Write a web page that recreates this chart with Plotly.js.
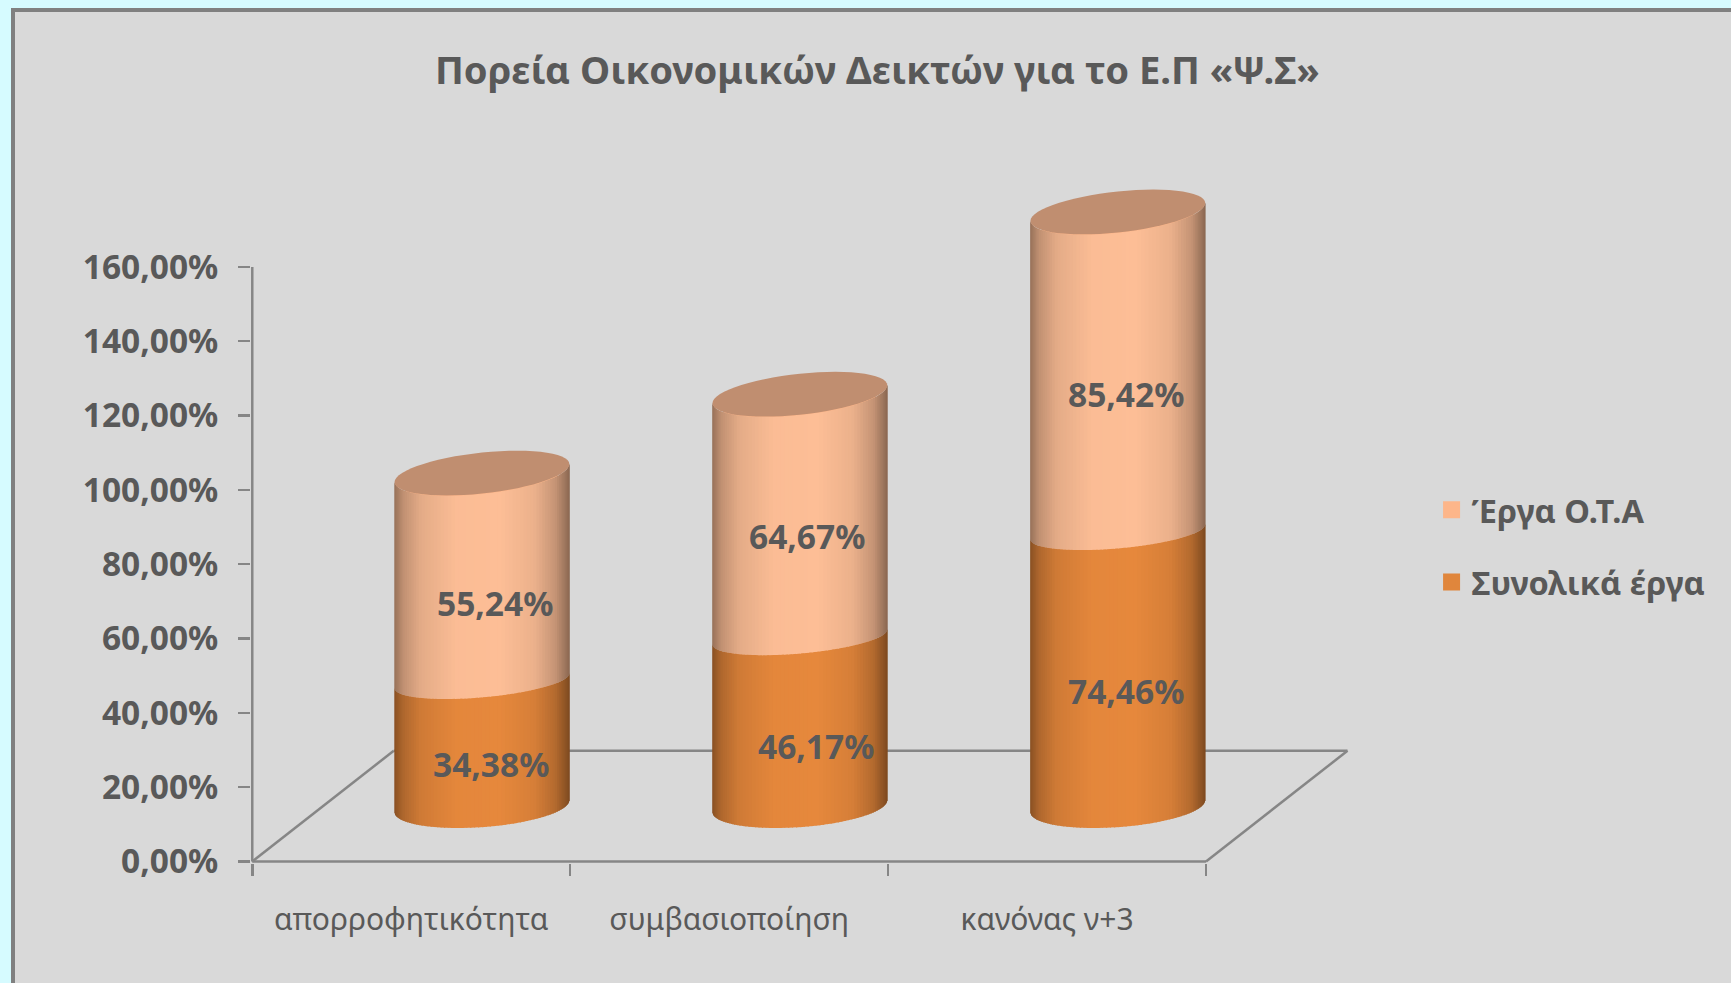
<!DOCTYPE html>
<html><head><meta charset="utf-8">
<script src="https://cdn.plot.ly/plotly-3.0.1.min.js"></script>
<style>
html,body{margin:0;padding:0;width:1731px;height:983px;overflow:hidden;background:#d6fbff;}
#panel{position:absolute;left:11px;top:8px;width:1720px;height:975px;box-sizing:border-box;background:#d9d9d9;border-left:4px solid #808080;border-top:4px solid #808080;}
#chart{position:absolute;left:0;top:0;width:1731px;height:983px;}
</style></head><body>
<div id="panel"></div><div id="chart"></div>
<script>
const categories = ['απορροφητικότητα','συμβασιοποίηση','κανόνας ν+3'];
const seriesTotalName = 'Συνολικά έργα';
const seriesOtaName = 'Έργα Ο.Τ.Α';
const totalValues = [34.38,46.17,74.46];
const otaValues = [55.24,64.67,85.42];
const yTicks = [0,20,40,60,80,100,120,140,160];
const yTickLabels = ['0,00%','20,00%','40,00%','60,00%','80,00%','100,00%','120,00%','140,00%','160,00%'];
const labelNudgeTotal = [9,16,8];
const labelNudgeOta = [13,7,8];
const labelLiftTotal = [1,-3,0];
const labelLiftOta = [-4,1,0];

const textColor = '#595959', axisColor = '#868686';
const fontName = '"Noto Sans", sans-serif';
const pxX = 318, pxY = 3.717;
const x0 = 252, y0 = 861.7;
const xMin = -0.004, xMax = 3.5, yMin = -0.4, yMax = 185;
const depthX = 0.445, depthY = 29.8;
const floor = depthY/2, shift = depthX/2;
const barW = 0.55, rectW = 0.46;

const orange = [230,136,60], peach = [253,190,150];
const prof = [[0,.6],[.05,.76],[.15,.9],[.35,.99],[.6,1],[.8,.93],[.92,.78],[1,.55]];
function shade(c,f){
  let s = prof[prof.length-1][1];
  for(let i=1;i<prof.length;i++){ if(f<=prof[i][0]){const a=prof[i-1],b=prof[i]; s=a[1]+(b[1]-a[1])*(f-a[0])/(b[0]-a[0]); break;} }
  return 'rgb('+c.map(v=>Math.round(v*s)).join(',')+')';
}
// front edge of an elliptical section: u in [-1,1]
function edge(val,u,bPx,kPx,dy){ return val + dy/pxY - bPx/pxY*Math.sqrt(Math.max(0,1-u*u)) + kPx/pxY*u; }
const shapes = [];
function line(x1,y1,x2,y2){ shapes.push({type:'line',xref:'x',yref:'y',x0:x1,y0:y1,x1:x2,y1:y2,layer:'below',line:{color:axisColor,width:2.5}}); }
line(0,0,0,160); line(0,0,3,0);
line(0,0,depthX,depthY); line(depthX,depthY,3+depthX,depthY); line(3,0,3+depthX,depthY);

const N = 70;
function segment(cx,vLo,vHi,color,lo,hi){
  const a = barW/2;
  for(let i=0;i<N;i++){
    const t1 = Math.PI*(1-i/N), t2 = Math.PI*(1-(i+1)/N);
    const u1 = Math.cos(t1), u2 = Math.cos(t2);
    const uo = Math.min(1,u2+0.012);
    const f = ((u1+u2)/2+1)/2;
    const p = 'M'+(cx+a*u1)+','+edge(vLo,u1,lo[0],lo[1],lo[2])+
      ' L'+(cx+a*uo)+','+edge(vLo,uo,lo[0],lo[1],lo[2])+
      ' L'+(cx+a*uo)+','+edge(vHi,uo,hi[0],hi[1],hi[2])+
      ' L'+(cx+a*u1)+','+edge(vHi,u1,hi[0],hi[1],hi[2])+' Z';
    shapes.push({type:'path',xref:'x',yref:'y',path:p,fillcolor:shade(color,f),line:{width:0},layer:'above'});
  }
}
function cap(cx,v){
  const a = barW/2, b = 20.5/pxY, k = 9/pxY; let p='';
  for(let i=0;i<60;i++){
    const t = 2*Math.PI*i/60, u = Math.cos(t);
    p += (i?' L':'M')+(cx+a*u)+','+(v + b*Math.sin(t) + k*u);
  }
  shapes.push({type:'path',xref:'x',yref:'y',path:p+' Z',fillcolor:'#c08e70',line:{width:0},layer:'above'});
}
const positions = categories.map((c,i)=>i+0.5);
categories.forEach((c,i)=>{
  const cx = positions[i]+shift;
  const v1 = floor+totalValues[i], v2 = v1+otaValues[i];
  const bottom=[21,6,0], mid=[16.5,7.5,-2.5], top=[21,9,0];
  segment(cx,floor,v1,orange,bottom,mid);
  segment(cx,v1,v2,peach,mid,top);
  cap(cx,v2);
});

const fmt = v => v.toFixed(2).replace('.',',')+'%';
const annotations = [];
categories.forEach((c,i)=>{
  const cx = positions[i]+shift;
  annotations.push({x:cx,y:floor+totalValues[i]/2-6.2,xref:'x',yref:'y',text:fmt(totalValues[i]),showarrow:false,xshift:labelNudgeTotal[i],yshift:labelLiftTotal[i],font:{family:fontName,size:33.5,color:textColor,weight:'bold'}});
  annotations.push({x:cx,y:floor+totalValues[i]+otaValues[i]/2-6.2,xref:'x',yref:'y',text:fmt(otaValues[i]),showarrow:false,xshift:labelNudgeOta[i],yshift:labelLiftOta[i],font:{family:fontName,size:33.5,color:textColor,weight:'bold'}});
});
annotations.push({xref:'paper',yref:'paper',x:(878-3-245.7)/1119.4,y:(983-118-73)/687.6,yanchor:'middle',xanchor:'center',showarrow:false,text:'Πορεία Οικονομικών Δεικτών για το Ε.Π «Ψ.Σ»',font:{family:fontName,size:38.2,color:textColor,weight:'bold'}});

const bars = (name,vals,bases,col,grp)=>({type:'bar',name:name,x:positions,y:vals,base:bases,width:rectW,offset:shift-rectW/2,
  marker:{color:col,line:{color:col,width:5}},legendgroup:grp,cliponaxis:false,hoverinfo:'skip'});
const data = [
  bars(seriesOtaName,otaValues,totalValues.map(v=>v+floor),'#fdb68a','a'),
  bars(seriesTotalName,totalValues,totalValues.map(v=>floor),'#e0863c','b')
];
const layout = {
  width:1731,height:983,paper_bgcolor:'rgba(0,0,0,0)',plot_bgcolor:'rgba(0,0,0,0)',
  separators:',.',barmode:'overlay',showlegend:true,
  margin:{l:x0+xMin*pxX,r:1731-(x0+xMax*pxX),t:y0-yMax*pxY,b:983-(y0-yMin*pxY),pad:0,autoexpand:false},
  xaxis:{type:'linear',range:[xMin,xMax],showgrid:false,zeroline:false,showline:false,
    tickmode:'array',tickvals:positions,ticktext:categories,ticks:'',ticklabelstandoff:36,
    tickfont:{family:fontName,size:30,color:textColor},
    minor:{tickmode:'array',tickvals:[0,1,2,3],ticks:'outside',ticklen:12,tickcolor:axisColor,tickwidth:2.5,showgrid:false}},
  yaxis:{range:[yMin,yMax],showgrid:false,zeroline:false,showline:false,
    tickmode:'array',tickvals:yTicks,ticktext:yTickLabels,ticks:'outside',ticklen:12,tickcolor:axisColor,tickwidth:2.5,
    ticklabelstandoff:13,tickfont:{family:fontName,size:33.5,color:textColor,weight:'bold'}},
  legend:{x:(1432-245.7)/1119.4,y:(983-118-485)/687.6,xanchor:'left',yanchor:'top',bgcolor:'rgba(0,0,0,0)',
    traceorder:'grouped',tracegroupgap:27,itemclick:false,itemdoubleclick:false,
    font:{family:fontName,size:32.5,color:textColor,weight:'bold'}},
  shapes:shapes,annotations:annotations
};
Plotly.newPlot('chart',data,layout,{displayModeBar:false,staticPlot:true});
</script></body></html>
